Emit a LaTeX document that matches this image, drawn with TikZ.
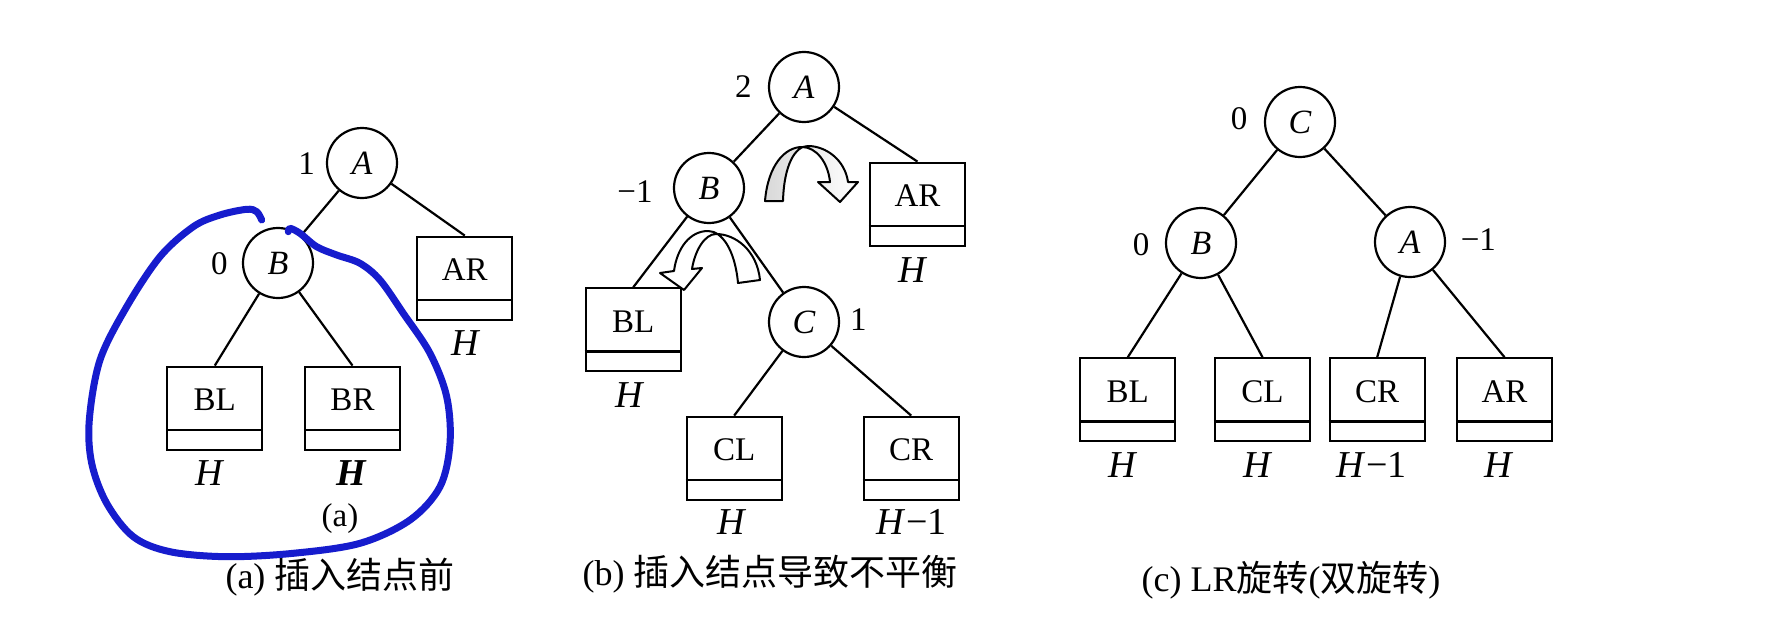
\documentclass[tikz,border=0pt]{standalone}
\usepackage{fontspec}
\setmainfont{Liberation Serif}
\newfontfamily\cjk{Noto Sans CJK SC}
\definecolor{penblue}{RGB}{22,28,205}
\tikzset{
  ln/.style={line width=2.2pt, draw=black},
  cnode/.style={circle, draw=black, line width=2.2pt, minimum size=70pt, inner sep=0pt, font=\fontsize{34}{40}\selectfont\itshape},
  tb/.style={rectangle, draw=black, line width=2.2pt, minimum width=95pt, minimum height=83pt, inner sep=0pt},
  boxlbl/.style={font=\fontsize{33}{40}\selectfont, inner sep=0pt},
  hlbl/.style={font=\fontsize{38}{44}\selectfont, inner sep=0pt},
  bal/.style={font=\fontsize{33}{40}\selectfont, inner sep=0pt},
  captxt/.style={font=\fontsize{36}{42}\selectfont, inner sep=0pt},
  blueline/.style={line width=7pt, draw=penblue, line cap=round, line join=round},
  rotarrow/.style={line width=2pt, draw=black, line join=round},
}
\newcommand{\mybox}[4]{%
  \node[tb] (#1) at (#2,#3) {};
  \draw[ln] ([yshift=21pt]#1.south west) -- ([yshift=21pt]#1.south east);
  \node[boxlbl] (#1t) at ([yshift=8.5pt]#1.center) {#4};
}
\begin{document}
\begin{tikzpicture}[x=1pt,y=-1pt]
\useasboundingbox[fill=white] (0,0) rectangle (1766,626);

% ---------------- panel (a)
\node[cnode] (aA) at (362,163) {A};
\node[cnode] (aB) at (278,263) {B};
\node[bal] (aAb) at (306.7,163.3) {1};
\node[bal] (aBb) at (219.3,263.3) {0};
\mybox{aAR}{464.8}{278.2}{AR}
\mybox{aBL}{214.8}{408.2}{BL}
\mybox{aBR}{352.5}{408.2}{BR}
\node[hlbl] (aARh) at (466,343.3) {\textit{H}};
\node[hlbl] (aBLh) at (210,473.3) {\textit{H}};
\node[hlbl] (aBRh) at (351.7,473.3) {\textbf{\textit{H}}};
\draw[ln] (aA) -- (aB);
\draw[ln] (aA) -- (aAR.north);
\draw[ln] (aB) -- (aBL.north);
\draw[ln] (aB) -- (aBR.north);
\node[bal] (atag) at (340,518.3) {(a)};
\node[captxt] (acap) at (340,577) {(a) {\cjk 插入结点前}};

% ---------------- panel (b)
\node[cnode] (bA) at (804,87) {A};
\node[cnode] (bB) at (709,188) {B};
\node[cnode] (bC) at (804,322) {C};
\node[bal] (bAb) at (743.3,86.7) {2};
\node[bal] (bBb) at (635,191.7) {−1};
\node[bal] (bCb) at (858.3,320) {1};
\mybox{bAR}{917.5}{204.2}{AR}
\mybox{bBL}{633.3}{329.8}{BL}
\mybox{bCL}{734.2}{458.2}{CL}
\mybox{bCR}{911.2}{458.2}{CR}
\node[hlbl] (bARh) at (913.3,270) {\textit{H}};
\node[hlbl] (bBLh) at (630,395) {\textit{H}};
\node[hlbl] (bCLh) at (731.7,521.7) {\textit{H}};
\node[hlbl] (bCRh) at (911.7,521.7) {\textit{H}−1};
\draw[ln] (bA) -- (bB);
\draw[ln] (bA) -- (bAR.north);
\draw[ln] (bB) -- (bBL.north);
\draw[ln] (bB) -- (bC);
\draw[ln] (bC) -- (bCL.north);
\draw[ln] (bC) -- (bCR.north);
% rotation arrows (twisted ribbons)
\draw[rotarrow, left color=gray!30, right color=white]
  (765,201) .. controls (768,165) and (785,147) .. (802,147)
  .. controls (816,147) and (828,162) .. (830,182)
  -- (818,182) -- (840,202) -- (858,182) -- (848,182)
  .. controls (845,160) and (826,146) .. (808,146)
  .. controls (795,146) and (784,165) .. (783,201) -- cycle;
\draw[rotarrow, fill=white]
  (738,283) .. controls (735,250) and (722,231) .. (708,231)
  .. controls (690,231) and (677,248) .. (674,271)
  -- (660,273) -- (684,290) -- (702,268) -- (692,269)
  .. controls (695,250) and (705,234) .. (716,234)
  .. controls (735,234) and (757,250) .. (760,280) -- cycle;
\node[captxt] (bcap) at (770,574) {(b) {\cjk 插入结点导致不平衡}};

% ---------------- panel (c)
\node[cnode] (cC) at (1300,122) {C};
\node[cnode] (cB) at (1201,243) {B};
\node[cnode] (cA) at (1410,242) {A};
\node[bal] (cCb) at (1239,118.3) {0};
\node[bal] (cBb) at (1141,245) {0};
\node[bal] (cAb) at (1478.3,240) {−1};
\mybox{cBL}{1127.8}{399.8}{BL}
\mybox{cCL}{1262.5}{399.8}{CL}
\mybox{cCR}{1377.2}{399.8}{CR}
\mybox{cAR}{1504.5}{399.8}{AR}
\node[hlbl] (cBLh) at (1123.3,465) {\textit{H}};
\node[hlbl] (cCLh) at (1258.3,465) {\textit{H}};
\node[hlbl] (cCRh) at (1371.7,465) {\textit{H}−1};
\node[hlbl] (cARh) at (1499.3,465) {\textit{H}};
\draw[ln] (cC) -- (cB);
\draw[ln] (cC) -- (cA);
\draw[ln] (cB) -- (cBL.north);
\draw[ln] (cB) -- (cCL.north);
\draw[ln] (cA) -- (cCR.north);
\draw[ln] (cA) -- (cAR.north);
\node[captxt] (ccap) at (1291,580) {(c) LR{\cjk 旋转}({\cjk 双旋转})};

% ---------------- blue hand-drawn loop
\draw[blueline] plot[smooth, tension=0.55] coordinates {
  (261.7,220) (256.7,211.7) (246.7,209.3) (220,215) (193.3,226.7)
  (160,256.7) (126.7,306.7) (100,360) (89.3,420) (91.7,463.3)
  (106.7,503.3) (133.3,536.7) (170,551.7) (226.7,556.7) (293.3,553.3)
  (360,543.3) (410,520) (440,486.7) (450,443.3) (446.7,396.7)
  (430,353.3) (403.3,313.3) (380,280) (360,263.3) (336.7,255)
  (316.7,246.7) (300,233.3) (290,228.3) (288.3,231.7)};
\end{tikzpicture}
\end{document}
